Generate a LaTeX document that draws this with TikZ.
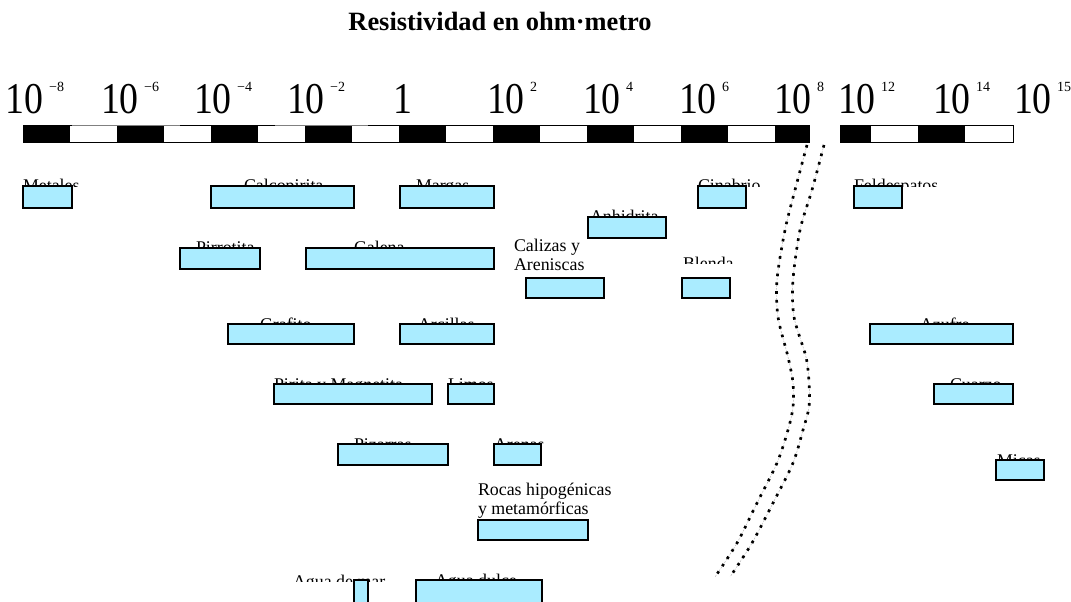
\documentclass[tikz,border=0pt]{standalone}
\usepackage{fontspec}
\setmainfont{Liberation Serif}
\usepackage{graphicx}
\definecolor{boxfill}{RGB}{170,236,255}
\tikzset{
  rbox/.style={draw=black, line width=1.7pt, fill=boxfill},
  lbltext/.style={inner sep=0pt, outer sep=0pt, font=\fontsize{13.4}{15}\selectfont, anchor=base west},
  ticklbl/.style={inner sep=0pt, outer sep=0pt, anchor=base west},
  brk/.style={line width=2pt, dash pattern=on 2pt off 4.6pt},
  brkfaint/.style={line width=0.3pt, gray!60, dash pattern=on 1.5pt off 1pt},
  thinedge/.style={gray, line width=0.5pt},
}
\newcommand{\cutlabel}[5]{\begin{scope}\clip (#2-20,#3-40) rectangle (#2+250,#4);\node[lbltext] (#1) at (#2,#3) {#5};\end{scope}}
\newcommand{\rbx}[4]{\draw[rbox] (#1,#2) rectangle (#3,#4);}
\newcommand{\powlbl}[3]{\node[ticklbl] (#1) at (#2,114) {\scalebox{0.86}[1]{\fontsize{33}{33}\selectfont 10}\hspace{4pt}\raisebox{17pt}{\fontsize{10.5}{10.5}\selectfont #3}};}
\begin{document}
\begin{tikzpicture}[x=0.75pt,y=-0.75pt]
\useasboundingbox (0,0) rectangle (1071,602);
\clip (0,0) rectangle (1071,602);
\fill[white] (0,0) rectangle (1071,602);
% title
\node[inner sep=0pt, anchor=base, font=\fontsize{19.8}{20}\selectfont\bfseries] (title) at (500,31) {Resistividad en ohm·metro};
% scale labels
\powlbl{pa}{6}{−8}
\powlbl{pb}{101}{−6}
\powlbl{pc}{194}{−4}
\powlbl{pd}{287}{−2}
\node[ticklbl] (pe) at (393,114) {\scalebox{0.86}[1]{\fontsize{33}{33}\selectfont 1}};
\powlbl{pf}{487}{2}
\powlbl{pg}{583}{4}
\powlbl{ph}{679}{6}
\powlbl{pi}{774}{8}
\powlbl{pj}{838}{12}
\powlbl{pk}{933}{14}
\powlbl{pl}{1014}{15}
% scale bar 1
\foreach \i in {0,2,...,14} { \fill[black] (23+47*\i,126) rectangle (70+47*\i,143); }
\fill[black] (775,126) rectangle (809,143);
\draw[line width=0.75pt] (23,126) rectangle (809,143);
% scale bar 2
\fill[black] (840,126) rectangle (871,143);
\fill[black] (918,126) rectangle (965,143);
\draw[line width=0.75pt] (840,126) rectangle (1013,143);
\draw[thinedge] (72,125) -- (180,125);
\draw[thinedge] (275,125) -- (368,125);
% break lines
\draw[brkfaint] plot[smooth] coordinates {(807,145) (795,190) (785,230) (777,280) (778,317) (788,357) (793,383) (793,407) (788,430) (777,463) (757,503) (737,543) (715,577)};
\draw[brkfaint] plot[smooth] coordinates {(824,145) (812,190) (800,230) (793,280) (794,317) (806,357) (809,383) (809,407) (803,430) (793,463) (773,503) (752,543) (730,577)};
\draw[brk] plot[smooth] coordinates {(807,145) (795,190) (785,230) (777,280) (778,317) (788,357) (793,383) (793,407) (788,430) (777,463) (757,503) (737,543) (715,577)};
\draw[brk] plot[smooth] coordinates {(824,145) (812,190) (800,230) (793,280) (794,317) (806,357) (809,383) (809,407) (803,430) (793,463) (773,503) (752,543) (730,577)};
% labels (clipped)
\cutlabel{lmetales}{23}{192}{186.5}{Metales}
\cutlabel{lcalco}{244}{192}{186.5}{Calcopirita}
\cutlabel{lmargas}{416}{192}{186.5}{Margas}
\cutlabel{lcinabrio}{698}{192}{186.5}{Cinabrio}
\cutlabel{lfeld}{854}{192}{186.5}{Feldespatos}
\cutlabel{lanhid}{590}{223}{218}{Anhidrita}
\cutlabel{lpirro}{196}{254}{248.5}{Pirrotita}
\cutlabel{lgalena}{354}{254}{248.5}{Galena}
\cutlabel{lblenda}{683}{270}{264}{Blenda}
\cutlabel{lgrafito}{260}{330}{324.5}{Grafito}
\cutlabel{larcillas}{418}{330}{324.5}{Arcillas}
\cutlabel{lazufre}{920}{330}{324.5}{Azufre}
\cutlabel{lpirita}{274}{390}{384.5}{Pirita y Magnetita}
\cutlabel{llimos}{448}{390}{384.5}{Limos}
\cutlabel{lcuarzo}{950}{390}{384.5}{Cuarzo}
\cutlabel{lpizarras}{354}{450}{444.5}{Pizarras}
\cutlabel{larenas}{494}{450}{444.5}{Arenas}
\cutlabel{lmicas}{997}{466}{460.5}{Micas}
\cutlabel{laguamar}{293}{587}{581}{Agua de mar}
\cutlabel{laguadulce}{435}{586}{580.5}{Agua dulce}
\node[lbltext] (lcal1) at (514,252) {Calizas y};
\node[lbltext] (lcal2) at (514,271) {Areniscas};
\node[lbltext] (lroc1) at (478,495) {Rocas hipogénicas};
\node[lbltext] (lroc2) at (478,514) {y metamórficas};
% boxes
\rbx{23}{186}{72}{208}
\rbx{211}{186}{354}{208}
\rbx{400}{186}{494}{208}
\rbx{698}{186}{746}{208}
\rbx{854}{186}{902}{208}
\rbx{588}{217}{666}{238}
\rbx{180}{248}{260}{269}
\rbx{306}{248}{494}{269}
\rbx{526}{278}{604}{298}
\rbx{682}{278}{730}{298}
\rbx{228}{324}{354}{344}
\rbx{400}{324}{494}{344}
\rbx{870}{324}{1013}{344}
\rbx{274}{384}{432}{404}
\rbx{448}{384}{494}{404}
\rbx{934}{384}{1013}{404}
\rbx{338}{444}{448}{465}
\rbx{494}{444}{541}{465}
\rbx{996}{460}{1044}{480}
\rbx{478}{520}{588}{540}
\rbx{354}{580}{368}{610}
\rbx{416}{580}{542}{610}
\end{tikzpicture}
\end{document}
